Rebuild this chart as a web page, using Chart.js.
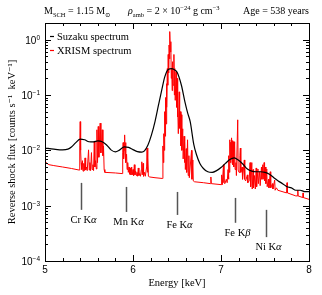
<!DOCTYPE html>
<html lang="en">
<head>
<meta charset="UTF-8">
<title>Reverse shock spectrum</title>
<script src="https://cdn.jsdelivr.net/npm/chart.js"></script>
<style>
    body { margin: 0; background: #fff; }
    #wrap { width: 322px; height: 295px; }
</style>
</head>
<body>
<div id="wrap"><canvas id="spec" width="322" height="295"></canvas></div>
<script>
// Suzaku spectrum (smooth)
var suzakuE = [5.00, 5.10, 5.20, 5.26, 5.30, 5.35, 5.40, 5.45, 5.50, 5.55, 5.60, 5.65, 5.70, 5.75, 5.80, 5.85,
    5.90, 5.95, 6.00, 6.05, 6.10, 6.13, 6.17, 6.21, 6.25, 6.29, 6.33, 6.36, 6.40, 6.44, 6.47, 6.50, 6.55, 6.59,
    6.62, 6.65, 6.69, 6.72, 6.76, 6.80, 6.85, 6.90, 6.95, 7.00, 7.05, 7.10, 7.15, 7.20, 7.25, 7.30, 7.35, 7.40,
    7.45, 7.50, 7.55, 7.60, 7.65, 7.70, 7.75, 7.80, 7.85, 7.90, 7.95, 8.00];
var suzakuF = [0.0110, 0.0105, 0.0102, 0.0105, 0.0115, 0.0138, 0.0160, 0.0155, 0.0143, 0.0142, 0.0148, 0.0143,
    0.0125, 0.0102, 0.0094, 0.0102, 0.0115, 0.0113, 0.0103, 0.0095, 0.0093, 0.0098, 0.0125, 0.019, 0.033, 0.066,
    0.13, 0.21, 0.29, 0.30, 0.285, 0.26, 0.15, 0.075, 0.048, 0.033, 0.013, 0.0085, 0.0058, 0.0047, 0.0041, 0.0040,
    0.0043, 0.0049, 0.0058, 0.0068, 0.0073, 0.0066, 0.0056, 0.0046, 0.0042, 0.0041, 0.0041, 0.0040, 0.0037,
    0.0032, 0.0028, 0.0025, 0.0022, 0.0021, 0.0019, 0.0019, 0.0018, 0.0018];

// XRISM spectrum (line resolved)
var xrismE = [5.000, 5.015, 5.030, 5.045, 5.100, 5.200, 5.300, 5.388, 5.395, 5.400, 5.405, 5.410, 5.418, 5.425,
    5.432, 5.440, 5.447, 5.455, 5.462, 5.470, 5.480, 5.495, 5.503, 5.510, 5.518, 5.528, 5.535, 5.545, 5.552,
    5.560, 5.567, 5.575, 5.583, 5.590, 5.597, 5.605, 5.612, 5.620, 5.627, 5.635, 5.642, 5.650, 5.658, 5.665,
    5.672, 5.680, 5.800, 5.876, 5.883, 5.888, 5.893, 5.898, 5.905, 5.910, 5.915, 5.920, 5.927, 5.933, 5.940,
    5.947, 5.955, 5.962, 5.970, 5.977, 5.985, 5.992, 6.000, 6.007, 6.015, 6.022, 6.030, 6.038, 6.045, 6.052,
    6.060, 6.067, 6.075, 6.085, 6.095, 6.100, 6.105, 6.115, 6.120, 6.130, 6.140, 6.155, 6.160, 6.165, 6.170,
    6.175, 6.190, 6.250, 6.335, 6.340, 6.345, 6.350, 6.355, 6.360, 6.365, 6.370, 6.375, 6.380, 6.385, 6.390,
    6.395, 6.400, 6.405, 6.410, 6.415, 6.420, 6.425, 6.430, 6.435, 6.440, 6.445, 6.450, 6.455, 6.465, 6.470,
    6.475, 6.480, 6.490, 6.495, 6.500, 6.505, 6.510, 6.515, 6.525, 6.530, 6.540, 6.545, 6.550, 6.555, 6.565,
    6.570, 6.580, 6.585, 6.590, 6.595, 6.605, 6.610, 6.620, 6.627, 6.635, 6.640, 6.665, 6.670, 6.680, 6.685,
    6.700, 6.800, 6.880, 6.885, 6.890, 7.000, 7.005, 7.010, 7.015, 7.028, 7.034, 7.045, 7.060, 7.070, 7.080,
    7.085, 7.090, 7.095, 7.100, 7.105, 7.110, 7.115, 7.120, 7.125, 7.130, 7.135, 7.140, 7.145, 7.155, 7.160,
    7.170, 7.175, 7.190, 7.195, 7.205, 7.215, 7.220, 7.225, 7.240, 7.245, 7.265, 7.270, 7.280, 7.300, 7.305,
    7.320, 7.330, 7.335, 7.340, 7.350, 7.355, 7.365, 7.370, 7.380, 7.390, 7.400, 7.405, 7.420, 7.425, 7.440,
    7.445, 7.460, 7.465, 7.475, 7.480, 7.490, 7.495, 7.505, 7.510, 7.520, 7.525, 7.540, 7.545, 7.560, 7.565,
    7.585, 7.590, 7.610, 7.615, 7.630, 7.645, 7.745, 7.750, 7.755, 7.850, 7.870, 7.873, 7.876, 7.930, 7.933,
    7.936, 8.000];
var xrismF = [0.0056, 0.0060, 0.0057, 0.0055, 0.0053, 0.0050, 0.0047, 0.0044, 0.0120, 0.0330, 0.0100, 0.0060,
    0.0045, 0.0065, 0.0042, 0.0058, 0.0043, 0.0073, 0.0044, 0.0050, 0.0043, 0.0102, 0.0044, 0.0060, 0.0043,
    0.0091, 0.0045, 0.0055, 0.0043, 0.0143, 0.0050, 0.0065, 0.0046, 0.0235, 0.0060, 0.0270, 0.0075, 0.0160,
    0.0310, 0.0090, 0.0130, 0.0235, 0.0080, 0.0120, 0.0045, 0.0040, 0.0039, 0.0038, 0.0090, 0.0138, 0.0070,
    0.0100, 0.0190, 0.0080, 0.0138, 0.0060, 0.0085, 0.0045, 0.0060, 0.0040, 0.0050, 0.0037, 0.0048, 0.0036,
    0.0050, 0.0036, 0.0045, 0.0035, 0.0055, 0.0036, 0.0042, 0.0035, 0.0040, 0.0034, 0.0048, 0.0035, 0.0038,
    0.0034, 0.0045, 0.0062, 0.0036, 0.0058, 0.0034, 0.0040, 0.0034, 0.0050, 0.0110, 0.0040, 0.0073, 0.0034,
    0.0033, 0.0032, 0.0031, 0.012, 0.006, 0.020, 0.010, 0.050, 0.018, 0.09, 0.030, 0.16, 0.06, 0.30, 0.15, 0.54,
    0.25, 0.80, 0.45, 1.40, 0.60, 0.92, 0.20, 0.30, 0.12, 0.40, 0.15, 0.54, 0.10, 0.30, 0.08, 0.26, 0.06, 0.20,
    0.04, 0.066, 0.020, 0.114, 0.025, 0.050, 0.012, 0.044, 0.010, 0.0245, 0.007, 0.018, 0.006, 0.0143, 0.0045,
    0.0107, 0.0040, 0.0155, 0.0035, 0.0080, 0.0032, 0.0100, 0.0030, 0.0067, 0.0028, 0.0027, 0.0026, 0.0025,
    0.0033, 0.0025, 0.0024, 0.0024, 0.0036, 0.0024, 0.0055, 0.0026, 0.0025, 0.0030, 0.0026, 0.0045, 0.0030,
    0.0080, 0.0040, 0.0155, 0.0060, 0.0140, 0.0070, 0.0168, 0.0060, 0.0150, 0.0055, 0.0143, 0.0050, 0.0143,
    0.0045, 0.0060, 0.0035, 0.0356, 0.0044, 0.0040, 0.0080, 0.0110, 0.0040, 0.0050, 0.0030, 0.0067, 0.0030,
    0.0028, 0.0036, 0.0026, 0.0028, 0.0060, 0.0024, 0.0022, 0.0060, 0.0020, 0.0045, 0.0021, 0.0035, 0.0020,
    0.0048, 0.0022, 0.0046, 0.0025, 0.0041, 0.0023, 0.0050, 0.0030, 0.0055, 0.0030, 0.0060, 0.0028, 0.0050,
    0.0025, 0.0046, 0.0022, 0.0030, 0.0021, 0.0041, 0.0021, 0.0025, 0.0020, 0.0029, 0.0019, 0.0021, 0.0019,
    0.0017, 0.0026, 0.0017, 0.0015, 0.0015, 0.0019, 0.0015, 0.0014, 0.0017, 0.0014, 0.0013];

// emission line markers
var lineNames = ['Cr K', 'Mn K', 'Fe K', 'Fe K', 'Ni K'];
var lineGreek = ['α', 'α', 'α', 'β', 'α'];
var lineE = [5.41, 5.92, 6.50, 7.16, 7.51];
var lineTop = [0.00258, 0.00218, 0.00177, 0.00138, 0.00084];
var lineBot = [0.00084, 0.00077, 0.00068, 0.00049, 0.00027];

var xTicks = [5, 6, 7, 8];
var yTicks = [1e-4, 1e-3, 1e-2, 1e-1, 1];
var yTickExp = ['-4', '-3', '-2', '-1', '0'];

var SERIF = '"Liberation Serif", "DejaVu Serif", serif';
var SANS = '"Liberation Sans", "DejaVu Sans", sans-serif';

function pairs(xs, ys) {
    return xs.map(function (x, i) { return { x: x, y: ys[i] }; });
}

// draw a row of text pieces: [text, size, dy, italic]
function drawRuns(ctx, runs, x, y, align, family) {
    family = family || SERIF;
    var w = 0;
    runs.forEach(function (r) {
        ctx.font = (r[3] ? 'italic ' : '') + r[1] + 'px ' + family;
        w += ctx.measureText(r[0]).width;
    });
    var cx = x;
    if (align === 'center') cx = x - w / 2;
    if (align === 'right') cx = x - w;
    runs.forEach(function (r) {
        ctx.font = (r[3] ? 'italic ' : '') + r[1] + 'px ' + family;
        ctx.fillText(r[0], cx, y + r[2]);
        cx += ctx.measureText(r[0]).width;
    });
}

var decor = {
    id: 'decor',
    afterDatasetsDraw: function (chart) {
        var ctx = chart.ctx, a = chart.chartArea;
        var xs = chart.scales.x, ys = chart.scales.y;
        ctx.save();
        ctx.fillStyle = '#000';
        ctx.textBaseline = 'alphabetic';

        // line markers + labels
        ctx.strokeStyle = '#555';
        ctx.lineWidth = 1.5;
        lineE.forEach(function (e, i) {
            var px = Math.round(xs.getPixelForValue(e)) + 0.5;
            var yb = ys.getPixelForValue(lineBot[i]);
            ctx.beginPath();
            ctx.moveTo(px, ys.getPixelForValue(lineTop[i]));
            ctx.lineTo(px, yb);
            ctx.stroke();
            drawRuns(ctx, [[lineNames[i], 10.5, 0, false], [lineGreek[i], 10.5, 0, true]], px + 2, yb + 13, 'center');
        });

        // legend
        ctx.lineWidth = 1.2;
        ctx.strokeStyle = '#000';
        ctx.beginPath(); ctx.moveTo(a.left + 5, a.top + 13.5); ctx.lineTo(a.left + 9, a.top + 13.5); ctx.stroke();
        ctx.strokeStyle = '#ff0000';
        ctx.beginPath(); ctx.moveTo(a.left + 5, a.top + 27.5); ctx.lineTo(a.left + 9, a.top + 27.5); ctx.stroke();
        drawRuns(ctx, [['Suzaku spectrum', 10.5, 0, false]], a.left + 12, a.top + 17);
        drawRuns(ctx, [['XRISM spectrum', 10.5, 0, false]], a.left + 12, a.top + 31);

        // frame
        ctx.strokeStyle = '#000';
        ctx.lineWidth = 1;
        ctx.strokeRect(Math.round(a.left) + 0.5, Math.round(a.top) + 0.5,
            Math.round(a.right - a.left), Math.round(a.bottom - a.top));

        // x ticks on bottom and top
        ctx.beginPath();
        for (var k = 0; k <= 15; k++) {
            var v = 5 + k * 0.2;
            var px = Math.round(xs.getPixelForValue(v)) + 0.5;
            var len = (k % 5 === 0) ? 6 : 3;
            ctx.moveTo(px, a.bottom); ctx.lineTo(px, a.bottom - len);
            ctx.moveTo(px, a.top); ctx.lineTo(px, a.top + len);
        }
        // y ticks on left and right
        for (var d = -4; d <= 0; d++) {
            for (var m = 1; m <= 9; m++) {
                var val = m * Math.pow(10, d);
                if (val > 2.0001) break;
                var py = Math.round(ys.getPixelForValue(val)) + 0.5;
                var l = (m === 1) ? 6 : 3;
                ctx.moveTo(a.left, py); ctx.lineTo(a.left + l, py);
                ctx.moveTo(a.right, py); ctx.lineTo(a.right - l, py);
            }
        }
        ctx.stroke();

        // tick labels
        xTicks.forEach(function (v) {
            drawRuns(ctx, [[String(v), 10, 0, false]], xs.getPixelForValue(v), a.bottom + 12, 'center', SANS);
        });
        yTicks.forEach(function (v, i) {
            drawRuns(ctx, [['10', 10, 0, false], [yTickExp[i].replace('-', '\u2212'), 6.5, -4, false]],
                a.left - 5, ys.getPixelForValue(v) + 4, 'right', SANS);
        });

        // header
        var ty = 14;
        drawRuns(ctx, [['M', 10, 0, false], ['SCH', 6.5, 2.5, false], [' = 1.15 M', 10, 0, false], ['\u2299', 6.5, 2.5, false]], 44, ty);
        drawRuns(ctx, [['\u03C1', 10, 0, true], ['amb', 6.5, 2.5, false], [' = 2 \u00D7 10', 10, 0, false], ['\u221224', 6.5, -4, false],
            [' g cm', 10, 0, false], ['\u22123', 6.5, -4, false]], 128, ty);
        drawRuns(ctx, [['Age = 538 years', 10, 0, false]], 243, ty);
        ctx.restore();
    }
};

new Chart(document.getElementById('spec'), {
    type: 'line',
    data: {
        datasets: [{
            label: 'Suzaku spectrum',
            data: pairs(suzakuE, suzakuF),
            borderColor: '#000',
            borderWidth: 1.2,
            pointRadius: 0,
            cubicInterpolationMode: 'monotone'
        }, {
            label: 'XRISM spectrum',
            data: pairs(xrismE, xrismF),
            borderColor: '#ff0000',
            borderWidth: 1,
            pointRadius: 0,
            tension: 0
        }]
    },
    options: {
        responsive: false,
        animation: false,
        devicePixelRatio: 1,
        layout: { padding: { top: 23, right: 13, left: 0, bottom: 0 } },
        plugins: { legend: { display: false }, tooltip: { enabled: false } },
        scales: {
            x: {
                type: 'linear', min: 5, max: 8,
                grid: { display: false }, border: { display: false },
                afterBuildTicks: function (s) { s.ticks = xTicks.map(function (v) { return { value: v }; }); },
                afterFit: function (s) { s.height = 34; },
                ticks: { display: false },
                title: { display: true, text: 'Energy [keV]', color: '#000', padding: { top: 0, bottom: 5 },
                    font: { family: SERIF, size: 10.5 } }
            },
            y: {
                type: 'logarithmic', min: 1e-4, max: 2,
                grid: { display: false }, border: { display: false },
                afterBuildTicks: function (s) { s.ticks = yTicks.map(function (v) { return { value: v }; }); },
                afterFit: function (s) { s.width = 45; },
                ticks: { display: false },
                title: { display: true, text: 'Reverse shock flux [counts s\u207B\u00B9  keV\u207B\u00B9]', color: '#000',
                    padding: { top: 6, bottom: 0 }, font: { family: SERIF, size: 10.5 } }
            }
        }
    },
    plugins: [decor]
});
</script>
</body>
</html>
